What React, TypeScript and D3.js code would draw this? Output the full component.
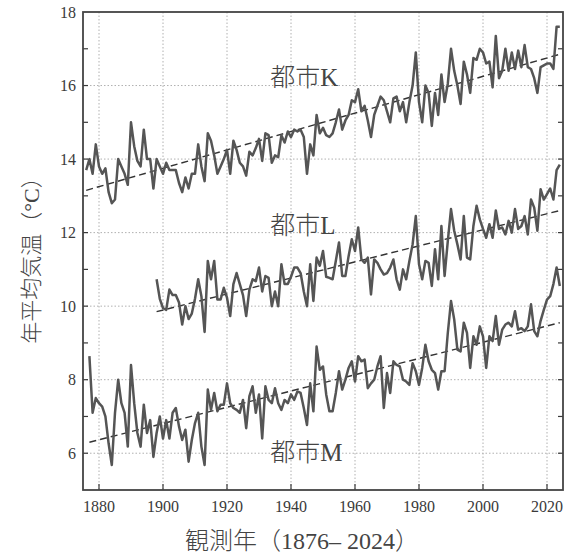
import React from 'react'
import { scaleLinear, line, range } from 'd3'

// annual mean temperature, city K (1876-2024)
const kStart = 1876
const kValues = [
  13.7, 14.0, 13.6, 14.4, 13.8, 13.6, 13.75, 13.1, 12.8, 12.9,
  14.0, 13.8, 13.6, 13.3, 15.0, 14.35, 13.95, 13.8, 14.8, 14.0,
  14.0, 13.2, 14.0, 13.8, 13.6, 13.9, 13.7, 13.7, 13.7, 13.35,
  13.1, 13.5, 13.2, 13.6, 13.6, 14.4, 13.8, 13.4, 14.7, 14.5,
  14.1, 13.6, 13.8, 14.0, 14.25, 13.6, 14.5, 14.25, 13.9, 13.8,
  13.55, 14.2, 14.1, 14.3, 14.55, 13.95, 14.7, 14.65, 13.9, 14.1,
  14.05, 14.65, 14.45, 14.75, 14.6, 14.8, 14.75, 14.8, 14.6, 13.6,
  14.4, 14.1, 15.2, 14.7, 14.85, 14.65, 14.6, 14.7, 15.0, 15.35,
  14.8, 15.05, 15.2, 15.6, 15.55, 15.9, 15.3, 15.45, 15.05, 14.6,
  15.2, 15.45, 15.7, 15.6, 15.3, 15.0, 15.65, 15.7, 15.3, 15.55,
  15.0, 15.55, 16.0, 16.9, 15.55, 15.0, 16.0, 15.8, 14.9, 15.8,
  15.2, 16.3, 15.55, 16.05, 17.0, 16.4, 16.0, 15.5, 16.65, 16.3,
  15.8, 16.75, 16.7, 17.0, 16.9, 16.6, 16.65, 15.95, 17.35, 16.2,
  16.4, 17.0, 16.4, 16.9, 16.45, 16.95, 16.5, 17.1, 16.5, 16.45,
  16.2, 15.8, 16.5, 16.55, 16.6, 16.6, 16.45, 17.6, 17.6,
]

// city L (1898-2024)
const lStart = 1898
const lValues = [
  10.73, 10.2, 9.95, 9.9, 10.45, 10.3, 10.3, 10.1, 9.5, 10.0,
  9.65, 9.8, 10.2, 10.73, 10.27, 9.3, 11.23, 10.73, 11.23, 10.18,
  10.18, 10.5, 10.23, 9.73, 10.6, 10.9, 10.6, 10.3, 9.73, 10.45,
  10.73, 10.68, 11.05, 10.4, 10.82, 10.77, 10.0, 10.4, 10.0, 11.14,
  10.6, 10.6, 10.8, 11.05, 11.05, 10.9, 10.4, 10.0, 11.14, 10.14,
  11.32, 11.1, 11.5, 10.8, 10.77, 10.73, 11.23, 11.73, 10.82, 10.82,
  11.36, 11.82, 11.5, 12.14, 11.27, 11.18, 11.32, 10.32, 11.27, 11.18,
  11.0, 10.86, 10.9, 11.05, 11.27, 10.73, 10.45, 11.0, 10.73, 11.23,
  11.68, 12.45, 11.14, 10.73, 11.23, 11.18, 10.55, 11.55, 10.73, 12.18,
  10.82, 11.77, 12.64, 12.05, 11.68, 11.27, 12.45, 11.32, 11.27, 12.18,
  12.73, 12.36, 12.1, 11.86, 12.23, 11.86, 12.6, 12.1, 12.14, 11.95,
  12.32, 12.0, 12.64, 12.1, 12.18, 12.45, 11.95, 12.9, 12.68, 12.05,
  13.18, 12.9, 13.05, 13.2, 12.9, 13.7, 13.85,
]

// city M (1877-2024)
const mStart = 1877
const mValues = [
  8.64, 7.1, 7.5, 7.36, 7.27, 7.0, 6.27, 5.68, 7.1, 8.0,
  7.36, 7.1, 6.18, 8.4, 7.36, 6.55, 6.18, 7.32, 6.55, 6.9,
  5.9, 6.55, 7.0, 6.4, 6.9, 6.4, 7.1, 7.23, 6.73, 6.36,
  6.64, 5.77, 6.36, 6.82, 7.1, 6.18, 5.68, 7.73, 7.18, 7.64,
  7.14, 7.32, 7.32, 7.9, 7.36, 7.23, 7.18, 7.1, 7.45, 6.68,
  7.55, 7.82, 7.1, 7.6, 6.4, 7.82, 7.45, 7.36, 7.77, 7.36,
  7.18, 7.45, 7.36, 7.6, 7.45, 7.68, 7.64, 7.23, 6.77, 7.9,
  7.14, 8.9, 8.27, 8.36, 7.6, 7.14, 7.14, 7.64, 8.23, 7.73,
  8.0, 8.32, 8.5, 7.95, 8.64, 8.5, 8.55, 7.77, 7.9, 8.0,
  8.36, 8.64, 7.23, 8.18, 7.64, 8.5, 8.4, 8.36, 8.0, 7.95,
  7.86, 8.45, 8.23, 7.86, 8.32, 8.95, 8.5, 8.27, 8.18, 7.73,
  8.23, 8.23, 9.27, 10.14, 9.64, 8.82, 8.77, 9.55, 9.27, 8.32,
  9.18, 8.95, 9.45, 9.18, 8.32, 9.18, 9.05, 9.73, 8.95, 9.36,
  9.5, 9.55, 9.45, 9.86, 9.36, 9.4, 9.32, 9.45, 10.05, 9.32,
  9.18, 9.6, 9.9, 10.18, 10.27, 10.6, 11.05, 10.55,
]

// dashed trend lines, end points
const trendK = [[1876, 13.15], [2024, 16.85]]
const trendL = [[1898, 9.85], [2024, 12.6]]
const trendM = [[1877, 6.3], [2024, 9.55]]

const cityLabels = [
  { name: '都市K', value: 16.0 },
  { name: '都市L', value: 11.95 },
  { name: '都市M', value: 5.8 },
]

const xTicks = [1880, 1900, 1920, 1940, 1960, 1980, 2000, 2020]
const yTicks = [6, 8, 10, 12, 14, 16, 18]

const toPoints = (start: number, vals: number[]) => vals.map((v, i) => [start + i, v])

const App = () => {
  const width = 565
  const height = 556
  const margin = { top: 12, right: 2, bottom: 66, left: 83 }
  const innerW = width - margin.left - margin.right
  const innerH = height - margin.top - margin.bottom

  const x = scaleLinear().domain([1875, 2025]).range([0, innerW])
  const y = scaleLinear().domain([5, 18]).range([innerH, 0])

  const path = line<number[]>().x(d => x(d[0])).y(d => y(d[1]))

  const series = [
    toPoints(kStart, kValues),
    toPoints(lStart, lValues),
    toPoints(mStart, mValues),
  ]
  const trends = [trendK, trendL, trendM]

  const serif = '"Liberation Serif", "Noto Sans CJK JP", serif'
  const ink = '#3a3a3a'

  return (
    <svg width={width} height={height} style={{ position: 'absolute', left: 0, top: 0 }}
      fontFamily={serif}>
      <rect width={width} height={height} fill="#fff" />
      <g transform={`translate(${margin.left},${margin.top})`}>
        {/* grid */}
        {xTicks.map(t => (
          <line key={'gx' + t} x1={x(t)} x2={x(t)} y1={0} y2={innerH}
            stroke="#b0b0b0" strokeWidth={1} strokeDasharray="1.5,2" />
        ))}
        {yTicks.filter(t => t < 18).map(t => (
          <line key={'gy' + t} x1={0} x2={innerW} y1={y(t)} y2={y(t)}
            stroke="#b0b0b0" strokeWidth={1} strokeDasharray="1.5,2" />
        ))}

        {/* ticks */}
        {range(6, 18).map(t => (
          <g key={'ty' + t}>
            <line x1={0} x2={5} y1={y(t)} y2={y(t)} stroke={ink} strokeWidth={1.2} />
            <line x1={innerW - 5} x2={innerW} y1={y(t)} y2={y(t)} stroke={ink} strokeWidth={1.2} />
          </g>
        ))}
        {xTicks.map(t => (
          <line key={'tx' + t} x1={x(t)} x2={x(t)} y1={innerH} y2={innerH - 6}
            stroke={ink} strokeWidth={1.2} />
        ))}

        {/* trend lines */}
        {trends.map((t, i) => (
          <path key={'tr' + i} d={path(t) || ''} fill="none" stroke="#333"
            strokeWidth={1.4} strokeDasharray="7,4" />
        ))}

        {/* data */}
        {series.map((s, i) => (
          <path key={'s' + i} d={path(s) || ''} fill="none" stroke="#555"
            strokeWidth={2.5} strokeLinejoin="round" />
        ))}

        {/* frame */}
        <rect x={0} y={0} width={innerW} height={innerH} fill="none" stroke="#444" strokeWidth={1.8} />

        {/* city labels */}
        {cityLabels.map(c => (
          <text key={c.name} x={x(1933.5)} y={y(c.value)} fontSize={25} fontWeight={300} fill="#444">{c.name}</text>
        ))}

        {/* axis labels */}
        {yTicks.map(t => (
          <text key={'ly' + t} x={-7} y={y(t)} dy="0.35em" textAnchor="end" fontSize={16} fill={ink}>{t}</text>
        ))}
        {xTicks.map(t => (
          <text key={'lx' + t} x={x(t)} y={innerH + 22} textAnchor="middle" fontSize={16} fill={ink}>{t}</text>
        ))}
      </g>
      <text x={185} y={549} fontSize={24} fontWeight={300} fill="#444">観測年（1876– 2024）</text>
      <text transform="translate(39,255) rotate(-90)" textAnchor="middle" fontSize={22} fontWeight={300} fill="#444">年平均気温（°C）</text>
    </svg>
  )
}

export default App
